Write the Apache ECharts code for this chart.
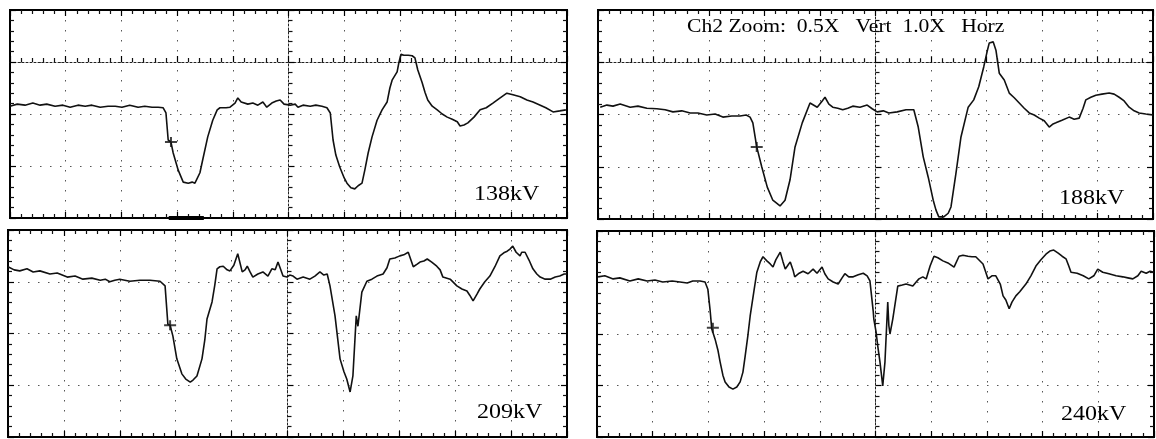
<!DOCTYPE html>
<html>
<head>
<meta charset="utf-8">
<title>scope traces</title>
<script src="https://cdn.jsdelivr.net/npm/echarts@6/dist/echarts.min.js"></script>
<style>
  html, body { margin: 0; padding: 0; background: #fff; }
  #chart { width: 1156px; height: 439px; }
</style>
</head>
<body>
<div id="chart"></div>
<script>
// traces: x in horizontal divisions (0-10), y in vertical divisions (0-4)
var trace138 = [[0.00,2.15],[0.13,2.19],[0.27,2.17],[0.41,2.21],[0.54,2.17],[0.66,2.19],[0.81,2.15],[0.95,2.17],[1.08,2.13],[1.22,2.17],[1.35,2.15],[1.47,2.17],[1.62,2.13],[1.76,2.15],[1.89,2.15],[2.01,2.13],[2.15,2.17],[2.30,2.13],[2.42,2.15],[2.55,2.13],[2.66,2.13],[2.75,2.12],[2.80,2.02],[2.84,1.50],[2.89,1.46],[2.93,1.25],[3.02,0.92],[3.11,0.69],[3.20,0.67],[3.27,0.69],[3.32,0.67],[3.41,0.87],[3.46,1.12],[3.55,1.56],[3.64,1.88],[3.72,2.08],[3.77,2.12],[3.88,2.12],[3.95,2.13],[4.04,2.21],[4.09,2.31],[4.15,2.23],[4.18,2.21],[4.27,2.19],[4.36,2.21],[4.45,2.17],[4.54,2.23],[4.61,2.13],[4.70,2.21],[4.78,2.25],[4.85,2.27],[4.92,2.19],[5.03,2.17],[5.12,2.19],[5.17,2.13],[5.26,2.17],[5.39,2.15],[5.49,2.17],[5.60,2.15],[5.69,2.12],[5.75,2.02],[5.80,1.50],[5.85,1.21],[5.92,0.98],[6.00,0.77],[6.05,0.67],[6.12,0.58],[6.19,0.56],[6.25,0.62],[6.32,0.67],[6.37,0.92],[6.43,1.25],[6.50,1.56],[6.59,1.88],[6.68,2.08],[6.77,2.23],[6.82,2.50],[6.86,2.65],[6.95,2.81],[6.98,2.98],[7.02,3.15],[7.07,3.13],[7.15,3.13],[7.22,3.12],[7.27,3.08],[7.32,2.85],[7.40,2.60],[7.45,2.42],[7.50,2.27],[7.58,2.15],[7.67,2.08],[7.76,2.00],[7.85,1.94],[7.94,1.90],[8.03,1.85],[8.08,1.77],[8.15,1.79],[8.22,1.83],[8.33,1.94],[8.44,2.08],[8.55,2.12],[8.67,2.21],[8.80,2.31],[8.92,2.40],[9.03,2.37],[9.16,2.33],[9.28,2.27],[9.39,2.23],[9.52,2.17],[9.62,2.12],[9.75,2.04],[9.87,2.06],[9.98,2.08]];

var trace188 = [[0.04,2.14],[0.16,2.18],[0.27,2.16],[0.40,2.20],[0.58,2.14],[0.72,2.16],[0.88,2.12],[1.06,2.11],[1.21,2.09],[1.35,2.05],[1.51,2.07],[1.66,2.03],[1.80,2.03],[1.96,1.99],[2.11,2.01],[2.25,1.95],[2.41,1.97],[2.56,1.97],[2.67,1.99],[2.74,1.95],[2.79,1.84],[2.86,1.38],[2.95,1.00],[3.05,0.61],[3.15,0.36],[3.28,0.25],[3.37,0.36],[3.46,0.75],[3.55,1.38],[3.68,1.84],[3.82,2.22],[3.95,2.14],[4.04,2.26],[4.09,2.33],[4.16,2.20],[4.23,2.14],[4.32,2.12],[4.41,2.09],[4.50,2.12],[4.59,2.16],[4.72,2.14],[4.85,2.18],[4.94,2.11],[5.03,2.05],[5.14,2.07],[5.24,2.03],[5.39,2.05],[5.55,2.09],[5.69,2.09],[5.77,1.76],[5.86,1.19],[5.95,0.80],[6.04,0.36],[6.09,0.17],[6.14,0.04],[6.23,0.04],[6.31,0.11],[6.36,0.23],[6.45,0.88],[6.54,1.57],[6.67,2.14],[6.77,2.28],[6.86,2.53],[6.95,2.91],[7.01,3.20],[7.05,3.37],[7.12,3.39],[7.17,3.23],[7.23,2.79],[7.32,2.66],[7.41,2.41],[7.50,2.32],[7.59,2.22],[7.68,2.12],[7.77,2.03],[7.86,1.99],[7.95,1.93],[8.04,1.88],[8.13,1.76],[8.20,1.82],[8.25,1.84],[8.36,1.89],[8.49,1.95],[8.58,1.91],[8.67,1.93],[8.74,2.12],[8.79,2.28],[8.88,2.33],[8.97,2.37],[9.08,2.39],[9.21,2.41],[9.30,2.39],[9.39,2.33],[9.48,2.26],[9.57,2.14],[9.66,2.07],[9.75,2.03],[9.87,2.01],[10.00,1.99]];

var trace209 = [[0.00,3.29],[0.11,3.23],[0.21,3.21],[0.34,3.25],[0.45,3.19],[0.57,3.21],[0.75,3.15],[0.88,3.17],[1.06,3.09],[1.20,3.11],[1.34,3.05],[1.50,3.07],[1.65,3.03],[1.74,3.05],[1.82,3.00],[1.91,3.03],[2.00,3.05],[2.18,3.01],[2.36,3.03],[2.54,3.03],[2.72,3.01],[2.81,2.92],[2.86,2.18],[2.90,2.16],[2.95,1.95],[3.02,1.51],[3.11,1.22],[3.18,1.12],[3.26,1.06],[3.31,1.10],[3.38,1.18],[3.47,1.51],[3.52,1.87],[3.56,2.28],[3.65,2.61],[3.70,2.94],[3.74,3.25],[3.79,3.29],[3.85,3.30],[3.92,3.23],[3.97,3.21],[4.04,3.32],[4.11,3.54],[4.19,3.19],[4.24,3.23],[4.28,3.30],[4.33,3.19],[4.38,3.09],[4.47,3.15],[4.56,3.19],[4.65,3.11],[4.72,3.25],[4.78,3.23],[4.83,3.38],[4.88,3.23],[4.92,3.11],[4.99,3.09],[5.04,3.13],[5.10,3.11],[5.17,3.05],[5.28,3.09],[5.40,3.05],[5.49,3.11],[5.58,3.19],[5.65,3.13],[5.71,3.15],[5.76,2.92],[5.85,2.34],[5.94,1.51],[6.01,1.26],[6.06,1.12],[6.12,0.87],[6.17,1.18],[6.23,2.34],[6.26,2.14],[6.33,2.80],[6.42,3.01],[6.51,3.05],[6.60,3.11],[6.71,3.15],[6.78,3.27],[6.83,3.44],[6.92,3.46],[7.01,3.50],[7.08,3.52],[7.16,3.57],[7.25,3.29],[7.32,3.34],[7.37,3.38],[7.44,3.40],[7.50,3.44],[7.58,3.38],[7.67,3.30],[7.73,3.23],[7.78,3.09],[7.91,3.05],[8.03,2.92],[8.12,2.86],[8.21,2.82],[8.26,2.74],[8.32,2.63],[8.39,2.76],[8.44,2.86],[8.53,3.00],[8.62,3.11],[8.71,3.29],[8.80,3.50],[8.87,3.56],[8.93,3.59],[8.98,3.63],[9.03,3.69],[9.09,3.57],[9.16,3.50],[9.19,3.57],[9.25,3.57],[9.32,3.42],[9.39,3.25],[9.46,3.15],[9.52,3.09],[9.61,3.05],[9.70,3.05],[9.79,3.09],[9.87,3.11],[9.95,3.15],[10.00,3.15]];

var trace240 = [[0.02,3.11],[0.14,3.13],[0.29,3.07],[0.41,3.09],[0.59,3.03],[0.74,3.07],[0.90,3.03],[1.04,3.05],[1.18,3.01],[1.35,3.03],[1.49,3.01],[1.62,2.99],[1.72,3.03],[1.85,3.03],[1.94,3.01],[1.99,2.87],[2.03,2.47],[2.06,2.10],[2.08,2.12],[2.12,1.90],[2.17,1.69],[2.21,1.46],[2.26,1.20],[2.30,1.07],[2.37,0.97],[2.44,0.93],[2.51,0.97],[2.57,1.07],[2.62,1.26],[2.66,1.57],[2.71,1.98],[2.75,2.35],[2.82,2.85],[2.87,3.20],[2.93,3.40],[2.98,3.50],[3.05,3.42],[3.11,3.36],[3.16,3.30],[3.21,3.44],[3.29,3.59],[3.34,3.40],[3.38,3.26],[3.43,3.34],[3.47,3.40],[3.52,3.24],[3.55,3.11],[3.63,3.18],[3.70,3.22],[3.79,3.17],[3.88,3.26],[3.95,3.18],[4.04,3.30],[4.09,3.17],[4.15,3.07],[4.24,3.01],[4.33,2.97],[4.40,3.09],[4.45,3.17],[4.52,3.11],[4.60,3.11],[4.69,3.15],[4.78,3.18],[4.85,3.13],[4.90,3.03],[4.96,2.43],[4.97,2.29],[5.01,2.04],[5.04,1.77],[5.08,1.46],[5.13,0.99],[5.17,1.46],[5.22,2.62],[5.24,2.16],[5.26,2.00],[5.31,2.29],[5.40,2.93],[5.48,2.95],[5.55,2.97],[5.67,2.93],[5.73,3.01],[5.78,3.07],[5.85,3.11],[5.91,3.07],[5.98,3.32],[6.05,3.51],[6.12,3.48],[6.21,3.42],[6.30,3.38],[6.41,3.30],[6.50,3.51],[6.57,3.53],[6.66,3.51],[6.73,3.50],[6.80,3.50],[6.93,3.36],[6.98,3.20],[7.02,3.07],[7.09,3.13],[7.16,3.13],[7.24,2.97],[7.29,2.74],[7.34,2.66],[7.40,2.49],[7.45,2.62],[7.52,2.74],[7.59,2.82],[7.70,2.97],[7.79,3.13],[7.88,3.32],[7.97,3.44],[8.06,3.55],[8.13,3.61],[8.20,3.63],[8.28,3.57],[8.35,3.51],[8.42,3.46],[8.47,3.32],[8.51,3.20],[8.62,3.18],[8.73,3.13],[8.83,3.07],[8.92,3.13],[8.99,3.26],[9.08,3.20],[9.19,3.17],[9.32,3.13],[9.44,3.11],[9.53,3.09],[9.62,3.07],[9.71,3.13],[9.77,3.22],[9.86,3.18],[9.93,3.22],[10.00,3.20]];

var traces = [trace138, trace188, trace209, trace240];
var voltLabels = ['138kV', '188kV', '209kV', '240kV'];
var zoomNote = 'Ch2 Zoom:  0.5X   Vert  1.0X   Horz';
// trigger "+" marks on the falling edge
var trigMarks = [[2.89, 1.46], [2.86, 1.38], [2.90, 2.16], [2.08, 2.12]];
// thick marker on the bottom edge of the first shot
var trigBar138 = [2.85, 3.48];
// which shots show the ticked horizontal reference line
var refLineShown = [true, true, false, false];

// panel placement (pixels)
var boxes = [
  {left: 10, top: 10, width: 557, height: 208, lx: 474, ly: 185},
  {left: 598, top: 10, width: 555, height: 209, lx: 1059, ly: 189},
  {left: 8, top: 230, width: 559, height: 207, lx: 477, ly: 403},
  {left: 597, top: 231, width: 557, height: 206, lx: 1061, ly: 405}
];

var grid = [], xAxis = [], yAxis = [], series = [], graphic = [];

function dots() {
  return {show: true, lineStyle: {color: '#555', width: 1, type: [1.5, 8.5]}};
}
function edgeAxis(extra) {
  var a = {
    type: 'value', interval: 1,
    axisLine: {show: true, onZero: false, lineStyle: {color: '#000', width: 2}},
    axisTick: {show: true, inside: true, length: 6, lineStyle: {color: '#000', width: 1.2}},
    minorTick: {show: true, splitNumber: 5, length: 4, lineStyle: {color: '#111', width: 1.2}},
    axisLabel: {show: false},
    splitLine: {show: false}
  };
  for (var k in extra) a[k] = extra[k];
  return a;
}
function centreAxis(extra, shown) {
  var a = {
    type: 'value', interval: 1,
    axisLine: {show: shown, onZero: true, lineStyle: {color: '#222', width: 1, type: [2, 2]}},
    axisTick: {show: shown, inside: true, length: 6, lineStyle: {color: '#000', width: 1.2}},
    minorTick: {show: shown, splitNumber: 5, length: 4, lineStyle: {color: '#111', width: 1.2}},
    axisLabel: {show: false},
    splitLine: {show: false}
  };
  for (var k in extra) a[k] = extra[k];
  return a;
}
var plusPath = 'path://M0,4h12v2h-12z M5,0h2v10h-2z';

boxes.forEach(function (b, g) {
  var c = 3 * g + 2;
  grid.push({left: b.left, top: b.top, width: b.width, height: b.height, show: true,
    borderColor: '#000', borderWidth: 2});

  xAxis.push(edgeAxis({gridIndex: g, min: 0, max: 10, position: 'bottom', splitLine: dots()}));
  xAxis.push(edgeAxis({gridIndex: g, min: 0, max: 10, position: 'top'}));
  var cx = centreAxis({gridIndex: g, min: -5, max: 5, position: 'bottom'}, refLineShown[g]);
  cx.axisLine.onZeroAxisIndex = c;
  xAxis.push(cx);

  yAxis.push(edgeAxis({gridIndex: g, min: 0, max: 4, position: 'left', splitLine: dots()}));
  yAxis.push(edgeAxis({gridIndex: g, min: 0, max: 4, position: 'right'}));
  var cy = centreAxis({gridIndex: g, min: -3, max: 1, position: 'left'}, true);
  cy.axisLine.onZeroAxisIndex = c;
  yAxis.push(cy);

  var line = {type: 'line', xAxisIndex: 3 * g, yAxisIndex: 3 * g, data: traces[g],
    symbol: 'none', silent: true, lineStyle: {color: '#111', width: 1.6}, z: 5};
  if (g === 0) {
    line.markLine = {symbol: 'none', silent: true, label: {show: false},
      lineStyle: {color: '#000', width: 4, type: 'solid'},
      data: [[{coord: [trigBar138[0], 0]}, {coord: [trigBar138[1], 0]}]]};
  }
  series.push(line);
  series.push({type: 'scatter', xAxisIndex: 3 * g, yAxisIndex: 3 * g, data: [trigMarks[g]],
    symbol: plusPath, symbolSize: [12, 10], itemStyle: {color: '#111'}, silent: true, z: 6});

  graphic.push({type: 'text', x: b.lx, y: b.ly, scaleX: 1.2, z: 10,
    style: {text: voltLabels[g], font: '20px "Liberation Serif"', fill: '#000'}});
});

graphic.push({type: 'text', x: 687, y: 18, scaleX: 1.2, z: 10,
  style: {text: zoomNote, font: '18px "Liberation Serif"', fill: '#000'}});

var chart = echarts.init(document.getElementById('chart'));
chart.setOption({
  animation: false,
  backgroundColor: '#fff',
  grid: grid,
  xAxis: xAxis,
  yAxis: yAxis,
  series: series,
  graphic: graphic
});
</script>
</body>
</html>
